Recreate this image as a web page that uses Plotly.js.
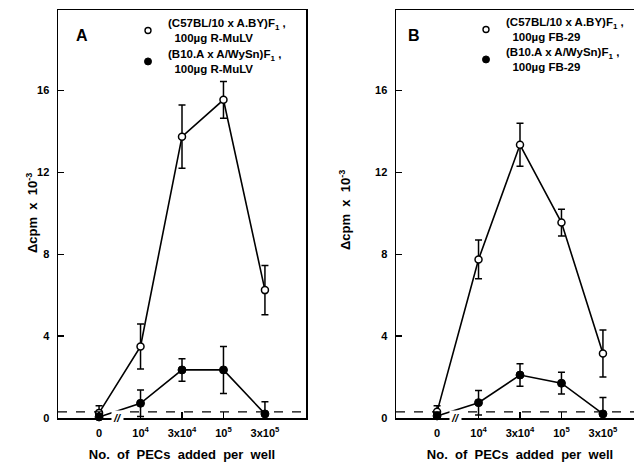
<!DOCTYPE html>
<html>
<head>
<meta charset="utf-8">
<script src="https://cdn.plot.ly/plotly-3.0.1.min.js"></script>
<style>
html,body{margin:0;padding:0;overflow:hidden;background:#fff;width:634px;height:463px;}
#chart{width:650px;height:463px;}
</style>
</head>
<body>
<div id="chart"></div>
<script>
// ---- data ----
const pecLabels = ['0', '10<sup>4</sup>', '3x10<sup>4</sup>', '10<sup>5</sup>', '3x10<sup>5</sup>'];

// Panel A: 100µg R-MuLV
const aOpen = [0.25, 3.5, 13.75, 15.55, 6.25];
const aOpenErr = [0.35, 1.1, 1.55, 0.9, 1.2];
const aFilled = [0.05, 0.72, 2.35, 2.35, 0.2];
const aFilledErr = [0.15, 0.65, 0.55, 1.15, 0.6];

// Panel B: 100µg FB-29
const bOpen = [0.3, 7.75, 13.35, 9.55, 3.15];
const bOpenErr = [0.3, 0.95, 1.05, 0.65, 1.15];
const bFilled = [0.1, 0.75, 2.1, 1.7, 0.2];
const bFilledErr = [0.15, 0.6, 0.55, 0.53, 0.8];

const background = 0.3; // dashed background level

const legendA = ['(C57BL/10 x A.BY)F<sub>1</sub> ,<br>  100µg R-MuLV', '(B10.A x A/WySn)F<sub>1</sub> ,<br>  100µg R-MuLV'];
const legendB = ['(C57BL/10 x A.BY)F<sub>1</sub> ,<br>  100µg FB-29', '(B10.A x A/WySn)F<sub>1</sub> ,<br>  100µg FB-29'];

const xTitle = 'No.\u00a0 of\u00a0 PECs\u00a0 added\u00a0 per\u00a0 well';
const yTitle = 'Δcpm\u00a0 x\u00a0 10<sup>-3</sup>';

// ---- drawing ----
const W = 650, H = 463;
const FONT = 'Liberation Sans, Arial, Helvetica, sans-serif';

function series(x, y, err, filled, xa, ya) {
  return {
    type: 'scatter', mode: 'lines+markers', x: x, y: y,
    xaxis: xa, yaxis: ya, showlegend: false, cliponaxis: false,
    line: {color: '#000', width: 1.6},
    marker: filled ? {symbol: 'circle', size: 8, color: '#000', line: {color: '#000', width: 1}}
                   : {symbol: 'circle', size: 7, color: '#fff', line: {color: '#000', width: 1.5}},
    error_y: {type: 'data', array: err, visible: true, color: '#000', thickness: 1.5, width: 3.5}
  };
}
function legendItem(name, filled, xa, ya, lg) {
  return {
    type: 'scatter', mode: 'markers', x: [null], y: [null], xaxis: xa, yaxis: ya,
    name: name, legend: lg, showlegend: true,
    marker: filled ? {symbol: 'circle', size: 7, color: '#000', line: {color: '#000', width: 1}}
                   : {symbol: 'circle', size: 6, color: '#fff', line: {color: '#000', width: 1.4}}
  };
}

const traces = [
  series(pecLabels, aOpen, aOpenErr, false, 'x', 'y'),
  series(pecLabels, aFilled, aFilledErr, true, 'x', 'y'),
  series(pecLabels, bOpen, bOpenErr, false, 'x2', 'y2'),
  series(pecLabels, bFilled, bFilledErr, true, 'x2', 'y2'),
  legendItem(legendA[0], false, 'x', 'y', 'legend'),
  legendItem(legendA[1], true, 'x', 'y', 'legend2'),
  legendItem(legendB[0], false, 'x2', 'y2', 'legend3'),
  legendItem(legendB[1], true, 'x2', 'y2', 'legend4')
];

const yDom = [(H - 418) / H, (H - 10) / H];
function xAxis(dom, anchor) {
  return {
    domain: dom, anchor: anchor, type: 'category', range: [-0.99, 4.99],
    showline: true, linecolor: '#000', linewidth: 1.5, mirror: true,
    ticks: 'inside', ticklen: 6, tickwidth: 1.3, tickcolor: '#000',
    showgrid: false, zeroline: false, ticklabelstandoff: 4,
    tickfont: {family: FONT, size: 11, color: '#000', weight: 'bold'},
    title: {text: xTitle, standoff: 12,
            font: {family: FONT, size: 13, color: '#000', weight: 'bold'}}
  };
}
function yAxis(anchor) {
  return {
    domain: yDom, anchor: anchor, range: [0, 19.94],
    tickvals: [0, 4, 8, 12, 16],
    showline: true, linecolor: '#000', linewidth: 1.5, mirror: true,
    ticks: 'inside', ticklen: 6, tickwidth: 1.3, tickcolor: '#000',
    showgrid: false, zeroline: false, ticklabelstandoff: 5,
    tickfont: {family: FONT, size: 11, color: '#000', weight: 'bold'}
  };
}
function legendBox(xpx, ypx) {
  return {
    x: xpx / W, y: 1 - ypx / H, xanchor: 'left', yanchor: 'top',
    bgcolor: 'rgba(0,0,0,0)', borderwidth: 0,
    itemwidth: 30,
    font: {family: FONT, size: 11.5, color: '#000', weight: 'bold'}
  };
}
function yTitleAnn(xpx, ypx) {
  return {text: yTitle, xref: 'paper', yref: 'paper', x: xpx / W, y: 1 - ypx / H,
          textangle: -90, showarrow: false,
          font: {family: FONT, size: 13, color: '#000', weight: 'bold'}};
}

const layout = {
  width: W, height: H,
  margin: {l: 0, r: 0, t: 0, b: 0},
  paper_bgcolor: '#fff', plot_bgcolor: '#fff',
  xaxis: xAxis([58 / W, 306 / W], 'y'),
  yaxis: yAxis('x'),
  xaxis2: xAxis([396 / W, 644 / W], 'y2'),
  yaxis2: yAxis('x2'),
  legend: legendBox(128, 9),
  legend2: legendBox(128, 40),
  legend3: legendBox(466, 8),
  legend4: legendBox(466, 38),
  shapes: [
    {type: 'line', xref: 'x domain', yref: 'y', x0: 0, x1: 1, y0: background, y1: background,
     line: {color: '#000', width: 1.3, dash: 'dash'}},
    {type: 'line', xref: 'x2 domain', yref: 'y2', x0: 0, x1: 1, y0: background, y1: background,
     line: {color: '#000', width: 1.3, dash: 'dash'}}
  ],
  annotations: [
    yTitleAnn(22, 213),
    yTitleAnn(345, 210),
    {text: 'A', xref: 'paper', yref: 'paper', x: 74 / W, y: 1 - 25 / H, showarrow: false,
     font: {family: FONT, size: 16, color: '#000', weight: 'bold'}},
    {text: 'B', xref: 'paper', yref: 'paper', x: 414 / W, y: 1 - 25 / H, showarrow: false,
     font: {family: FONT, size: 16, color: '#000', weight: 'bold'}},
    {text: '<i>//</i>', xref: 'x', yref: 'y', x: 0.45, y: 0, showarrow: false,
     font: {family: FONT, size: 11, color: '#000', weight: 'bold'}, bgcolor: '#fff'},
    {text: '<i>//</i>', xref: 'x2', yref: 'y2', x: 0.45, y: 0, showarrow: false,
     font: {family: FONT, size: 11, color: '#000', weight: 'bold'}, bgcolor: '#fff'}
  ]
};

Plotly.newPlot('chart', traces, layout, {staticPlot: true, displayModeBar: false});
</script>
</body>
</html>
